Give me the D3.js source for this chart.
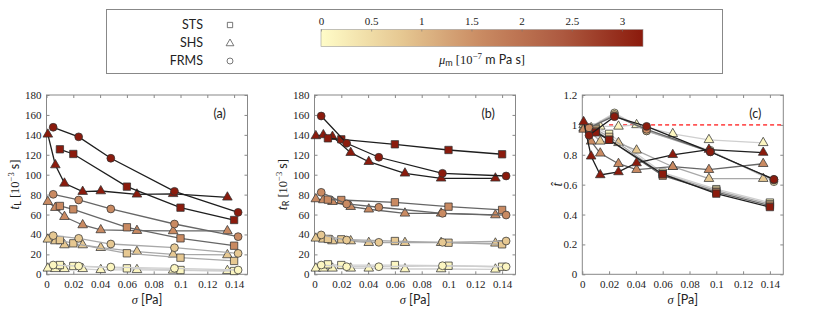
<!DOCTYPE html>
<html>
<head>
<meta charset="utf-8">
<script src="https://cdn.jsdelivr.net/npm/d3@7/dist/d3.min.js"></script>
<style>
  body { margin: 0; background: #fff; }
  svg text { fill: #222; }
  .tick text { font-family: "Liberation Serif", serif; font-size: 11px; }
</style>
</head>
<body>
<div class="Chart"></div>
<script>
// shear stress values for each device
const sigmaSTS = [0.010, 0.020, 0.060, 0.100, 0.140];
const sigmaSHS = [0.001, 0.0066, 0.0134, 0.027, 0.0405, 0.0675, 0.0945, 0.135];
const sigmaFRMS = [0.005, 0.024, 0.048, 0.0955, 0.143];

// membrane viscosity of each data set [1e-7 m Pa s]
const muLevels = [0.1, 0.8, 1.6, 3.2];

// panel (a): t_L [1e-3 s], one row per mu level
const tL_STS = [
  [9.3, 8.3, 6.0, 4.3, 3.3],
  [34.4, 31.1, 21.1, 16.7, 13.4],
  [68.6, 65.2, 47.2, 36.1, 28.7],
  [125.5, 120.8, 88.0, 66.9, 54.5]
];
const tL_SHS = [
  [6.0, 5.5, 5.5, 5.5, 4.5, 4.5, 4.0, 3.5],
  [35.1, 33.4, 29.4, 29.4, 26.7, 22.7, 20.0, 19.4],
  [72.9, 66.9, 57.8, 49.5, 44.5, 43.8, 43.5, 43.5],
  [140.5, 109.7, 91.3, 83.0, 83.6, 80.3, 80.8, 77.3]
];
const tL_FRMS = [
  [9.3, 8.3, 7.3, 6.0, 4.3],
  [38.8, 36.1, 30.4, 26.7, 21.0],
  [80.3, 74.6, 65.6, 50.5, 37.8],
  [147.6, 138.0, 116.5, 83.3, 62.2]
];

// panel (b): t_R [1e-3 s]
const tR_STS = [
  [10.0, 9.3, 9.3, 8.6, 7.6],
  [35.5, 35.1, 33.4, 31.7, 30.1],
  [75.0, 74.6, 72.3, 67.9, 64.6],
  [136.5, 135.5, 130.5, 124.8, 120.5]
];
const tR_SHS = [
  [6.0, 6.0, 6.0, 6.0, 6.0, 5.3, 5.3, 5.0],
  [36.1, 35.1, 33.4, 33.4, 31.7, 31.7, 31.7, 31.1],
  [75.6, 74.6, 72.9, 67.9, 65.3, 61.2, 61.2, 59.5],
  [138.9, 139.9, 138.2, 122.1, 113.0, 101.4, 96.4, 96.4]
];
const tR_FRMS = [
  [9.3, 7.6, 7.6, 8.6, 7.6],
  [39.5, 34.4, 32.1, 32.1, 33.4],
  [82.3, 70.6, 67.3, 61.2, 59.5],
  [158.9, 131.5, 117.5, 101.4, 98.7]
];

// panel (c): t-hat
const tHat_STS = [
  [0.98, 0.94, 0.68, 0.57, 0.48],
  [0.97, 0.92, 0.67, 0.56, 0.47],
  [0.96, 0.90, 0.66, 0.55, 0.46],
  [0.95, 0.90, 0.67, 0.54, 0.45]
];
const tHat_SHS = [
  [1.0, 0.98, 0.99, 0.99, 1.0, 0.94, 0.90, 0.88],
  [0.98, 0.95, 0.89, 0.88, 0.83, 0.72, 0.64, 0.64],
  [0.97, 0.89, 0.81, 0.74, 0.70, 0.72, 0.70, 0.74],
  [1.02, 0.79, 0.665, 0.685, 0.745, 0.80, 0.835, 0.815]
];
const tHat_FRMS = [
  [0.98, 1.08, 0.96, 0.83, 0.62],
  [0.98, 1.07, 0.96, 0.82, 0.63],
  [0.98, 1.06, 0.97, 0.82, 0.635],
  [0.93, 1.055, 0.99, 0.82, 0.635]
];

const xTicks = [0, 0.02, 0.04, 0.06, 0.08, 0.1, 0.12, 0.14];
const yTicksT = [0, 20, 40, 60, 80, 100, 120, 140, 160, 180];
const yTicksHat = [0, 0.2, 0.4, 0.6, 0.8, 1, 1.2];
const cbarTicks = [0, 0.5, 1, 1.5, 2, 2.5, 3];
const deviceNames = ["STS", "SHS", "FRMS"];

const W = 830, H = 319;
const svg = d3.select(".Chart").append("svg")
  .attr("width", W).attr("height", H)
  .style("font-family", "Lato, 'Noto Sans', sans-serif");

// colormap for mu_m
const cmap = d3.scaleLinear()
  .domain([0, 0.8, 1.6, 2.4, 3.21])
  .range(["#fffcc8", "#e6c892", "#c98a62", "#ad5a40", "#8b1a0c"])
  .interpolate(d3.interpolateRgb);
// line grey per mu level
const lineGrey = d3.scaleOrdinal().domain(muLevels)
  .range(["#cfcfcf", "#a8a8a8", "#666666", "#1e1e1e"]);

const symbols = {
  STS: d3.symbol().type(d3.symbolSquare).size(54),
  SHS: d3.symbol().type(d3.symbolTriangle).size(40),
  FRMS: d3.symbol().type(d3.symbolCircle).size(48)
};

// ---------- legend box ----------
svg.append("rect")
  .attr("x", 106.5).attr("y", 9.5).attr("width", 616).attr("height", 64)
  .attr("fill", "#fff").attr("stroke", "#888").attr("stroke-width", 1);

const legSym = {
  STS: d3.symbol().type(d3.symbolSquare).size(28),
  SHS: d3.symbol().type(d3.symbolTriangle).size(26),
  FRMS: d3.symbol().type(d3.symbolCircle).size(28)
};
const legY = d3.scalePoint().domain(deviceNames).range([25, 61]);
deviceNames.forEach(n => {
  svg.append("text")
    .attr("x", 203).attr("y", legY(n)).attr("dy", "0.35em")
    .attr("text-anchor", "end").attr("font-size", 12.5).text(n);
  svg.append("path")
    .attr("d", legSym[n]())
    .attr("transform", `translate(230,${legY(n) + (n === "SHS" ? 0.5 : 0)})`)
    .attr("fill", "none").attr("stroke", "#555").attr("stroke-width", 0.8);
});

// ---------- colorbar ----------
const cbX = d3.scaleLinear().domain([0, 3.21]).range([321, 643]);
const grad = svg.append("defs").append("linearGradient").attr("id", "cbar");
d3.range(0, 1.0001, 0.05).forEach(f => {
  grad.append("stop").attr("offset", f).attr("stop-color", cmap(f * 3.21));
});
svg.append("rect")
  .attr("x", cbX(0)).attr("y", 29.5).attr("width", cbX(3.21) - cbX(0)).attr("height", 17)
  .attr("fill", "url(#cbar)").attr("stroke", "#999").attr("stroke-width", 0.6);
const cbAxis = svg.append("g").attr("transform", "translate(0,29.5)")
  .call(d3.axisTop(cbX).tickValues(cbarTicks).tickSize(-2).tickPadding(5)
    .tickFormat(d3.format("~g")));
cbAxis.select(".domain").remove();
cbAxis.selectAll(".tick line").attr("stroke", "#777").attr("stroke-opacity", 0.6);
cbAxis.selectAll(".tick text").attr("font-size", 10.5);
const cbLab = svg.append("text").attr("x", 482).attr("y", 64).attr("text-anchor", "middle")
  .attr("font-size", 12.5);
cbLab.append("tspan").attr("font-family", "Liberation Serif, serif").attr("font-style", "italic").text("μ");
cbLab.append("tspan").attr("font-size", 9).attr("dy", 2).text("m");
cbLab.append("tspan").attr("dy", -2).attr("font-family", "Liberation Serif, serif").text(" [10");
cbLab.append("tspan").attr("font-size", 9).attr("dy", -5).attr("font-family", "Liberation Serif, serif").text("−7");
cbLab.append("tspan").attr("dy", 5).text(" m Pa s");
cbLab.append("tspan").attr("font-family", "Liberation Serif, serif").text("]");

// ---------- panels ----------
const panelTop = 95, panelH = 179.3, panelW = 201;
const panels = [
  { left: 46.5, tag: "(a)", yMax: 180, yTicks: yTicksT, sub: "L",
    data: { STS: tL_STS, SHS: tL_SHS, FRMS: tL_FRMS } },
  { left: 314.5, tag: "(b)", yMax: 180, yTicks: yTicksT, sub: "R",
    data: { STS: tR_STS, SHS: tR_SHS, FRMS: tR_FRMS } },
  { left: 582.3, tag: "(c)", yMax: 1.2, yTicks: yTicksHat, sub: null,
    data: { STS: tHat_STS, SHS: tHat_SHS, FRMS: tHat_FRMS } }
];
const sigmas = { STS: sigmaSTS, SHS: sigmaSHS, FRMS: sigmaFRMS };

panels.forEach(p => {
  const g = svg.append("g").attr("transform", `translate(${p.left},${panelTop})`);
  const x = d3.scaleLinear().domain([0, 0.15]).range([0, panelW]);
  const y = d3.scaleLinear().domain([0, p.yMax]).range([panelH, 0]);

  // axes with inward ticks on all four sides
  const fmt = d3.format("~g");
  const axB = g.append("g").attr("transform", `translate(0,${panelH})`)
    .call(d3.axisBottom(x).tickValues(xTicks).tickSize(-3).tickPadding(6).tickFormat(fmt));
  const axT = g.append("g")
    .call(d3.axisTop(x).tickValues(xTicks).tickSize(-3).tickFormat(""));
  const axL = g.append("g")
    .call(d3.axisLeft(y).tickValues(p.yTicks).tickSize(-3).tickPadding(5).tickFormat(fmt));
  const axR = g.append("g").attr("transform", `translate(${panelW},0)`)
    .call(d3.axisRight(y).tickValues(p.yTicks).tickSize(-3).tickFormat(""));
  [axB, axT, axL, axR].forEach(a => {
    a.select(".domain").remove();
    a.selectAll(".tick line").attr("stroke", "#888");
  });
  g.append("rect").attr("width", panelW).attr("height", panelH)
    .attr("fill", "none").attr("stroke", "#888").attr("stroke-width", 1);

  // reference line t-hat = 1
  if (!p.sub) {
    g.append("line")
      .attr("x1", x(0.02)).attr("x2", x(0.15)).attr("y1", y(1)).attr("y2", y(1))
      .attr("stroke", "#ff5555").attr("stroke-width", 1.6).attr("stroke-dasharray", "4,3");
  }

  // series, light to dark
  const plot = g.append("g");
  muLevels.forEach((mu, i) => {
    ["SHS", "STS", "FRMS"].forEach(dev => {
      const pts = sigmas[dev].map((s, j) => ({ s, v: p.data[dev][i][j] }));
      plot.append("path").datum(pts)
        .attr("d", d3.line().x(d => x(d.s)).y(d => y(d.v)))
        .attr("fill", "none").attr("stroke", lineGrey(mu)).attr("stroke-width", 1.3);
      plot.selectAll(null).data(pts).enter().append("path")
        .attr("d", symbols[dev]())
        .attr("transform", d => `translate(${x(d.s)},${y(d.v)})`)
        .attr("fill", cmap(mu)).attr("stroke", "#333").attr("stroke-width", 0.75);
    });
  });

  // panel tag
  g.append("text").attr("x", panelW - 34).attr("y", 19).attr("dy", "0.35em")
    .attr("font-size", 12.5).text(p.tag);

  // x label
  const xl = g.append("text").attr("x", panelW / 2).attr("y", panelH + 30)
    .attr("text-anchor", "middle").attr("font-size", 12.5);
  xl.append("tspan").attr("font-family", "Liberation Serif, serif").attr("font-style", "italic").text("σ");
  xl.append("tspan").text(" [Pa]");

  // y label
  const yl = g.append("text")
    .attr("transform", `translate(${p.sub ? -28 : -20},${panelH / 2}) rotate(-90)`)
    .attr("text-anchor", "middle").attr("font-size", 12.5);
  yl.append("tspan").attr("font-family", "Liberation Serif, serif").attr("font-style", "italic")
    .attr("font-size", 14).text(p.sub ? "t" : "t̂");
  if (p.sub) {
    yl.append("tspan").attr("font-size", 9).attr("dy", 2.5).text(p.sub);
    yl.append("tspan").attr("dy", -2.5).attr("font-family", "Liberation Serif, serif").text(" [10");
    yl.append("tspan").attr("font-size", 8.5).attr("dy", -5).attr("font-family", "Liberation Serif, serif").text("−3");
    yl.append("tspan").attr("dy", 5).text(" s");
    yl.append("tspan").attr("font-family", "Liberation Serif, serif").text("]");
  }
});
</script>
</body>
</html>
